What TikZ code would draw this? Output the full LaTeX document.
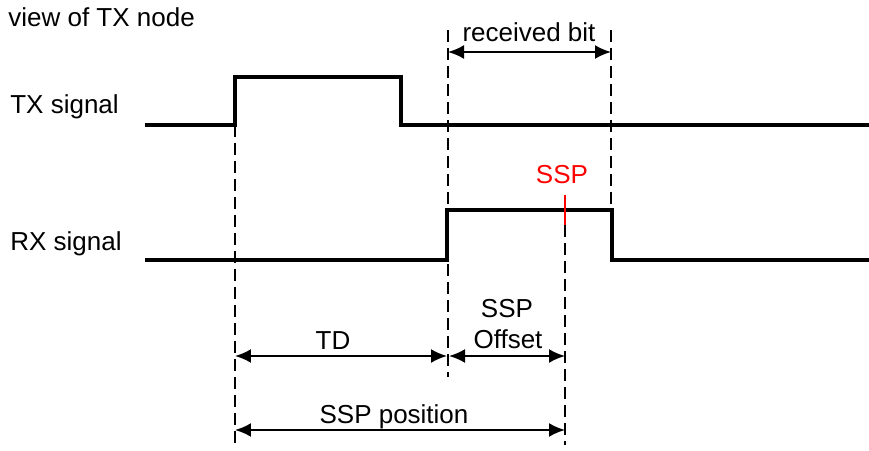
\documentclass[tikz,border=0pt]{standalone}
\usepackage{fontspec}
\setmainfont{Liberation Sans}
\usepackage{tikz}
\usetikzlibrary{arrows.meta}

\begin{document}
\begin{tikzpicture}[x=0.02cm, y=-0.02cm,
  signal/.style={line width=2.3pt, line join=miter},
  guide/.style={line width=0.9pt, dash pattern=on 0.24cm off 0.12cm},
  dim/.style={line width=1.2pt, {Latex[length=3.2mm,width=2.8mm]}-{Latex[length=3.2mm,width=2.8mm]}},
  lbl/.style={anchor=base, inner sep=0pt, font=\fontsize{14.8}{17}\selectfont}]
  \useasboundingbox (0,0) rectangle (869,450);
  \node[lbl, anchor=base west] (view) at (8,26) {view of TX node};
  \node[lbl, anchor=base west] (txlbl) at (10,113) {TX signal};
  \node[lbl, anchor=base west] (rxlbl) at (10,250) {RX signal};
  \coordinate (tx0) at (145,125);
  \coordinate (tx1) at (235,125);
  \coordinate (tx2) at (235,77);
  \coordinate (tx3) at (401,77);
  \coordinate (tx4) at (401,125);
  \coordinate (tx5) at (869,125);
  \coordinate (rx0) at (145,260);
  \coordinate (rx1) at (447,260);
  \coordinate (rx2) at (447,210);
  \coordinate (rx3) at (612,210);
  \coordinate (rx4) at (612,260);
  \coordinate (rx5) at (869,260);
  \draw[signal] (tx0) -- (tx1) -- (tx2) -- (tx3) -- (tx4) -- (tx5);
  \draw[signal] (rx0) -- (rx1) -- (rx2) -- (rx3) -- (rx4) -- (rx5);
  \coordinate (g1a) at (235,125);
  \coordinate (g1b) at (235,445);
  \coordinate (g2a) at (448,30);
  \coordinate (g2b) at (448,377);
  \coordinate (g3a) at (611,30);
  \coordinate (g3b) at (611,210);
  \coordinate (g4a) at (565,225);
  \coordinate (g4b) at (565,445);
  \draw[guide] (g1a) -- (g1b);
  \draw[guide] (g2a) -- (g2b);
  \draw[guide] (g3a) -- (g3b);
  \draw[guide] (g4a) -- (g4b);
  \coordinate (ssp1) at (565,195);
  \coordinate (ssp2) at (565,225);
  \draw[red, line width=1.2pt] (ssp1) -- (ssp2);
  \node[lbl, red] (ssplbl) at (562,183) {SSP};
  \coordinate (rb1) at (448,52);
  \coordinate (rb2) at (611,52);
  \draw[dim] (rb1) -- (rb2);
  \node[lbl] (rblbl) at (529,41) {received bit};
  \coordinate (td1) at (235,356);
  \coordinate (td2) at (447,356);
  \draw[dim] (td1) -- (td2);
  \node[lbl] (tdlbl) at (333,349) {TD};
  \coordinate (of1) at (449,356);
  \coordinate (of2) at (565,356);
  \draw[dim] (of1) -- (of2);
  \node[lbl] (oflbl1) at (507,317) {SSP};
  \node[lbl] (oflbl2) at (508,348) {Offset};
  \coordinate (pos1) at (235,430);
  \coordinate (pos2) at (565,430);
  \draw[dim] (pos1) -- (pos2);
  \node[lbl] (poslbl) at (394,423) {SSP position};
\end{tikzpicture}
\end{document}
